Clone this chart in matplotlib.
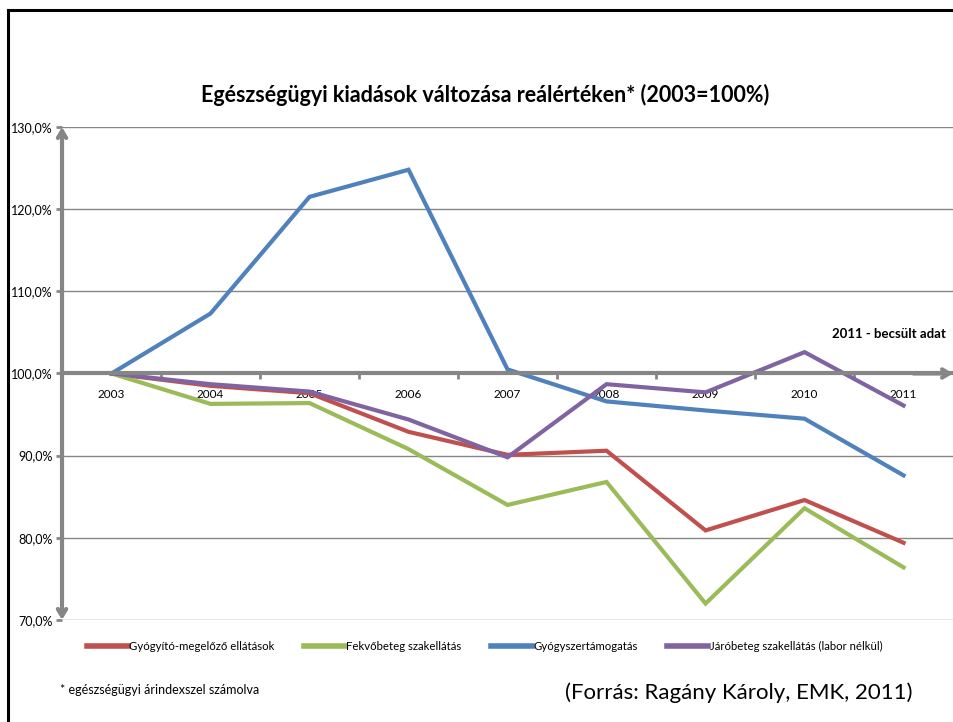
import matplotlib
matplotlib.use("Agg")
import matplotlib.pyplot as plt
from matplotlib.lines import Line2D

# data (2003 = 100%)
years = ["2003", "2004", "2005", "2006", "2007", "2008", "2009", "2010", "2011"]
gyogyito = [100.0, 98.5, 97.6, 92.9, 90.1, 90.6, 80.9, 84.6, 79.4]
fekvo = [100.0, 96.3, 96.4, 90.8, 84.0, 86.8, 72.0, 83.6, 76.4]
gyogyszer = [100.0, 107.3, 121.5, 124.8, 100.5, 96.6, 95.5, 94.5, 87.6]
jaro = [100.0, 98.7, 97.8, 94.4, 89.8, 98.7, 97.7, 102.6, 96.1]

names = ["Gyógyító-megelőző ellátások", "Fekvőbeteg szakellátás",
         "Gyógyszertámogatás", "Járóbeteg szakellátás (labor nélkül)"]
colors = ["#C0504D", "#9BBB59", "#4F81BD", "#8064A2"]
yticks = [70, 80, 90, 100, 110, 120, 130]

plt.rcParams['font.family'] = ['Lato', 'DejaVu Sans']
grey = "#868686"

fig = plt.figure(figsize=(9.54, 7.22), dpi=100)
ax = fig.add_axes([0.065, 0.1413, 0.934, 0.6828])

x = list(range(len(years)))
for vals, name, c in zip([gyogyito, fekvo, gyogyszer, jaro], names, colors):
    ax.plot(x, vals, color=c, lw=3, label=name, solid_joinstyle='miter')

ax.set_xlim(-0.5, 8.5)
ax.set_ylim(70, 130)
for s in ax.spines.values():
    s.set_visible(False)

# horizontal gridlines
for v in yticks:
    ax.axhline(v, color=grey, lw=1, zorder=0)

ax.set_yticks(yticks)
ax.set_yticklabels([f"{v},0%" for v in yticks], fontsize=9)
ax.tick_params(axis='y', length=4, width=2, color=grey, pad=3)

# x axis crosses at 100%
ax.spines['bottom'].set_visible(True)
ax.spines['bottom'].set_position(('data', 100))
ax.spines['bottom'].set_color(grey)
ax.spines['bottom'].set_linewidth(3)
ax.set_xticks(x)
ax.set_xticklabels(years, fontsize=8.5)
ax.set_xticks([i + 0.5 for i in range(len(years) - 1)], minor=True)
ax.tick_params(axis='x', which='major', length=0, pad=11)
ax.tick_params(axis='x', which='minor', length=4, width=2, color=grey)

# axis arrows
ax.annotate('', xy=(-0.5, 130), xytext=(-0.5, 70), annotation_clip=False,
            arrowprops=dict(arrowstyle='<->,head_length=0.5,head_width=0.3',
                            color=grey, lw=3, shrinkA=0, shrinkB=0))
ax.annotate('', xy=(8.5, 100), xytext=(8.1, 100), annotation_clip=False,
            arrowprops=dict(arrowstyle='->,head_length=0.5,head_width=0.3',
                            color=grey, lw=3, shrinkA=0, shrinkB=0))

ax.text(8.43, 104.8, "2011 - becsült adat", fontsize=9.5, fontweight='bold',
        ha='right', va='center')

fig.text(0.508, 0.868, "Egészségügyi kiadások változása reálértéken* (2003=100%)",
         fontsize=15.5, fontweight='bold', ha='center', va='center')

leg = fig.legend(loc='center', bbox_to_anchor=(0.508, 0.104), ncol=4, frameon=False,
                 fontsize=8.2, handlelength=3.6, columnspacing=2.6, handletextpad=0.1)
for h in leg.legend_handles:
    h.set_linewidth(4)

fig.text(0.063, 0.044, "* egészségügyi árindexszel számolva", fontsize=9, va='center')
fig.text(0.956, 0.041, "(Forrás: Ragány Károly, EMK, 2011)", fontsize=16,
         ha='right', va='center')

# black frame on the left and top
fig.add_artist(Line2D([8 / 954, 8 / 954], [0, 1 - 10 / 722], color='black', lw=2.2))
fig.add_artist(Line2D([8 / 954, 1], [1 - 10 / 722, 1 - 10 / 722], color='black', lw=2.2))

fig.savefig("out.png", dpi=100)
